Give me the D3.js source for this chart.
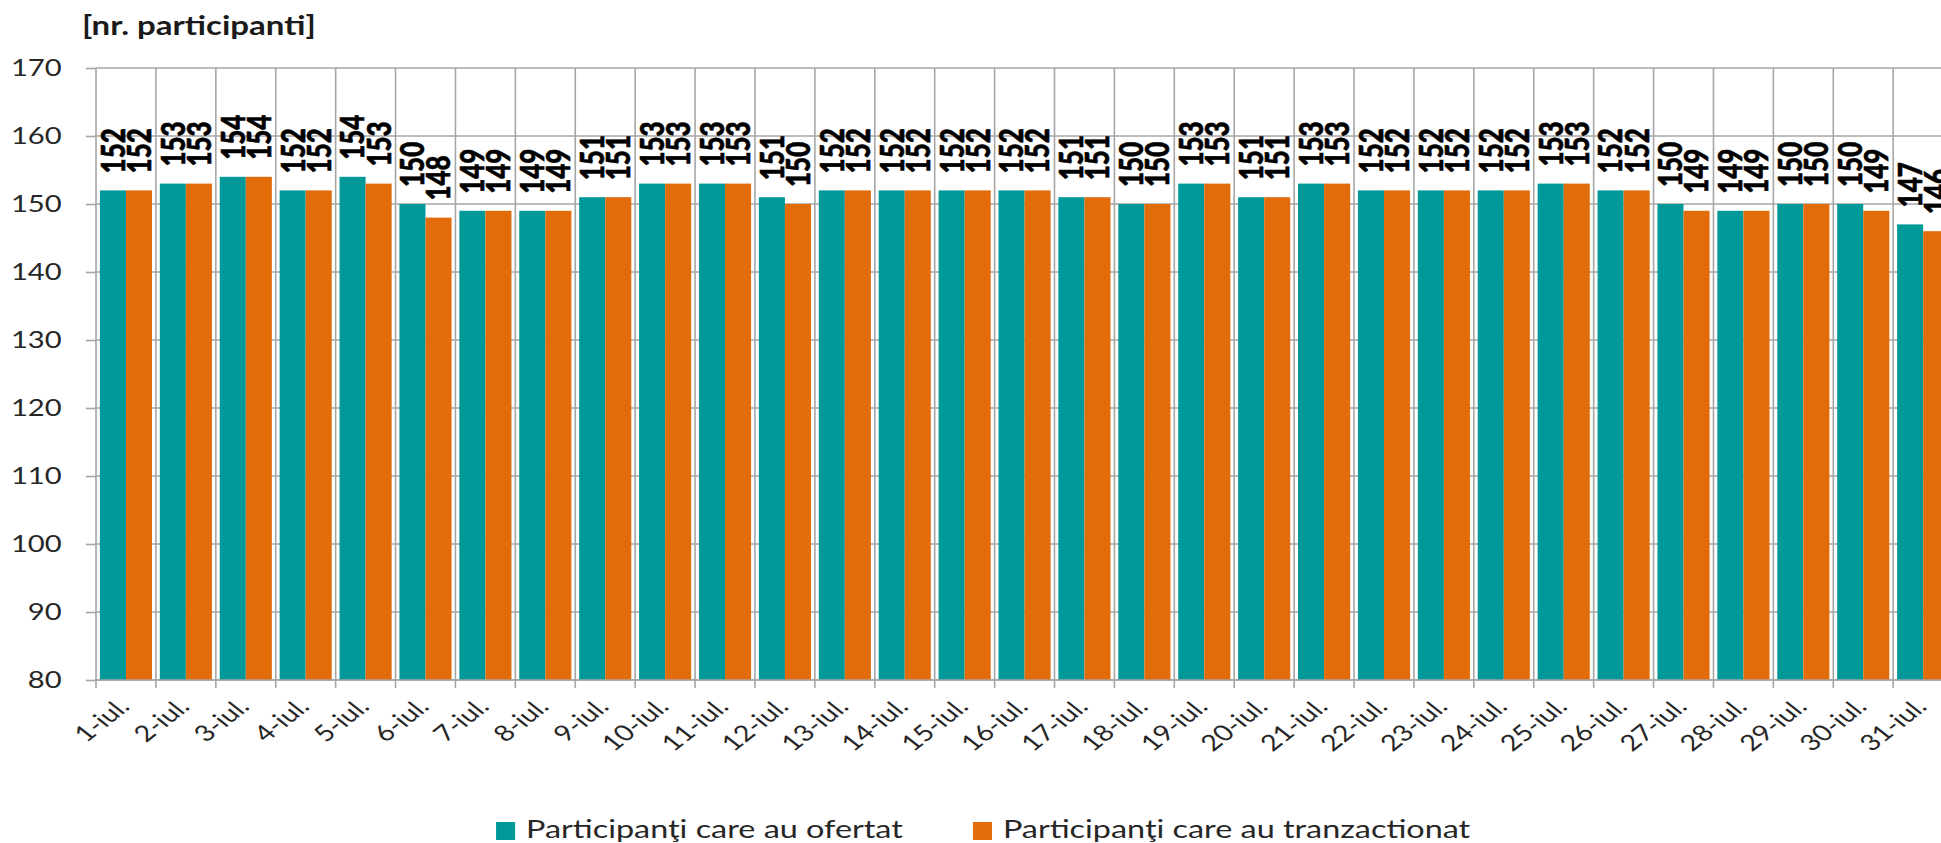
<!DOCTYPE html>
<html>
<head>
<meta charset="utf-8">
<script src="https://cdn.jsdelivr.net/npm/d3@7"></script>
<style>
    body { margin: 0; background: #fff; }
    svg { display: block; font-family: Lato, "Open Sans", sans-serif; }
</style>
</head>
<body>
<div id="bar-chart"></div>
<script>
const days = ["1-iul.", "2-iul.", "3-iul.", "4-iul.", "5-iul.", "6-iul.", "7-iul.", "8-iul.",
    "9-iul.", "10-iul.", "11-iul.", "12-iul.", "13-iul.", "14-iul.", "15-iul.", "16-iul.",
    "17-iul.", "18-iul.", "19-iul.", "20-iul.", "21-iul.", "22-iul.", "23-iul.", "24-iul.",
    "25-iul.", "26-iul.", "27-iul.", "28-iul.", "29-iul.", "30-iul.", "31-iul."];
const ofertat = [152, 153, 154, 152, 154, 150, 149, 149, 151, 153, 153, 151, 152, 152, 152, 152,
    151, 150, 153, 151, 153, 152, 152, 152, 153, 152, 150, 149, 150, 150, 147];
const tranzactionat = [152, 153, 154, 152, 153, 148, 149, 149, 151, 153, 153, 150, 152, 152, 152, 152,
    151, 150, 153, 151, 153, 152, 152, 152, 153, 152, 149, 149, 150, 149, 146];
const yTicks = [80, 90, 100, 110, 120, 130, 140, 150, 160, 170];
const seriesNames = ["Participanţi care au ofertat", "Participanţi care au tranzactionat"];

const drawBarChart = () => {
    const width = 1941;
    const height = 843;
    const stretch = 1.27; // the picture is wider than the chart it was made from
    const left = 75.6;
    const step = 47.17;
    const top = 68;
    const bottom = 680;
    const teal = "#009999";
    const orange = "#E36C0A";
    const grid = "#A6A6A6";
    const ink = "#262626";

    const svg = d3.select("#bar-chart")
        .append("svg")
        .attr("width", width)
        .attr("height", height);

    const chart = svg.append("g")
        .attr("transform", `scale(${stretch}, 1)`);

    // scales
    const xScale = d3.scaleBand()
        .domain(days)
        .range([left, left + step * days.length])
        .paddingInner(0.13)
        .paddingOuter(0.065);
    const xSub = d3.scaleBand()
        .domain([0, 1])
        .range([0, xScale.bandwidth()]);
    const yScale = d3.scaleLinear()
        .domain([80, 170])
        .range([bottom, top]);

    const boundaries = d3.range(days.length + 1).map(i => xScale.range()[0] + i * xScale.step());
    const xRight = boundaries[boundaries.length - 1];

    // gridlines
    chart.append("g")
        .selectAll("line")
        .data(yTicks)
        .join("line")
        .attr("x1", left)
        .attr("x2", xRight)
        .attr("y1", d => yScale(d))
        .attr("y2", d => yScale(d))
        .attr("stroke", grid)
        .attr("stroke-width", 1.6)
        .attr("vector-effect", "non-scaling-stroke");

    chart.append("g")
        .selectAll("line")
        .data(boundaries)
        .join("line")
        .attr("x1", d => d)
        .attr("x2", d => d)
        .attr("y1", top)
        .attr("y2", bottom + 8)
        .attr("stroke", grid)
        .attr("stroke-width", 1.6)
        .attr("vector-effect", "non-scaling-stroke");

    // bars
    const series = [ofertat, tranzactionat];
    const colors = [teal, orange];
    const rows = days.map((d, i) => ({ day: d, values: series.map(s => s[i]) }));

    const groups = chart.append("g")
        .selectAll("g")
        .data(rows)
        .join("g")
        .attr("transform", d => `translate(${xScale(d.day)}, 0)`);

    groups.selectAll("rect")
        .data(d => d.values.map((v, k) => ({ k, v })))
        .join("rect")
        .attr("x", d => xSub(d.k))
        .attr("width", xSub.bandwidth())
        .attr("y", d => yScale(d.v))
        .attr("height", d => bottom - yScale(d.v))
        .attr("fill", d => colors[d.k]);

    // data labels
    groups.selectAll("text")
        .data(d => d.values.map((v, k) => ({ k, v })))
        .join("text")
        .attr("transform", d => `translate(${xSub(d.k) + xSub.bandwidth() / 2}, ${yScale(d.v) - 17}) rotate(-90)`)
        .attr("dy", "0.36em")
        .attr("font-size", 26)
        .attr("font-weight", 900)
        .attr("fill", "#000")
        .attr("stroke", "#000")
        .attr("stroke-width", 0.5)
        .text(d => d.v);

    // bottom axis line
    chart.append("line")
        .attr("x1", left)
        .attr("x2", xRight)
        .attr("y1", bottom)
        .attr("y2", bottom)
        .attr("stroke", grid)
        .attr("stroke-width", 1.6)
        .attr("vector-effect", "non-scaling-stroke");

    // y axis
    const leftAxis = d3.axisLeft(yScale)
        .tickValues(yTicks)
        .tickSize(8)
        .tickPadding(19);

    const yAxis = chart.append("g")
        .attr("class", "axis-y")
        .attr("transform", `translate(${left}, 0)`)
        .call(leftAxis);
    yAxis.select(".domain").remove();
    yAxis.selectAll(".tick line")
        .attr("stroke", grid)
        .attr("stroke-width", 1.6)
        .attr("vector-effect", "non-scaling-stroke");
    yAxis.selectAll(".tick text")
        .attr("font-size", 23)
        .attr("font-family", "Lato, sans-serif")
        .attr("fill", ink);

    // x axis labels
    const bottomAxis = d3.axisBottom(xScale)
        .tickSize(0)
        .tickPadding(0);

    const xAxis = chart.append("g")
        .attr("class", "axis-x")
        .attr("transform", `translate(0, ${bottom})`)
        .call(bottomAxis);
    xAxis.select(".domain").remove();
    xAxis.selectAll(".tick text")
        .attr("y", 0)
        .attr("dy", 0)
        .attr("text-anchor", "end")
        .attr("transform", "translate(4, 28) rotate(-45)")
        .attr("font-size", 22.5)
        .attr("font-family", "Lato, sans-serif")
        .attr("fill", ink);

    // title
    chart.append("text")
        .attr("x", 64.6)
        .attr("y", 35)
        .attr("font-size", 26)
        .attr("font-weight", "bold")
        .attr("fill", "#1a1a1a")
        .text("[nr. participanti]");

    // legend
    const legendX = [390.6, 766.1];
    const legend = chart.append("g")
        .selectAll("g")
        .data(seriesNames)
        .join("g")
        .attr("transform", (d, i) => `translate(${legendX[i]}, 0)`);
    legend.append("rect")
        .attr("x", 0)
        .attr("y", 822)
        .attr("width", 15)
        .attr("height", 18)
        .attr("fill", (d, i) => colors[i]);
    legend.append("text")
        .attr("x", 23.6)
        .attr("y", 838)
        .attr("font-size", 25.5)
        .attr("fill", ink)
        .text(d => d);
};

drawBarChart();
</script>
</body>
</html>
